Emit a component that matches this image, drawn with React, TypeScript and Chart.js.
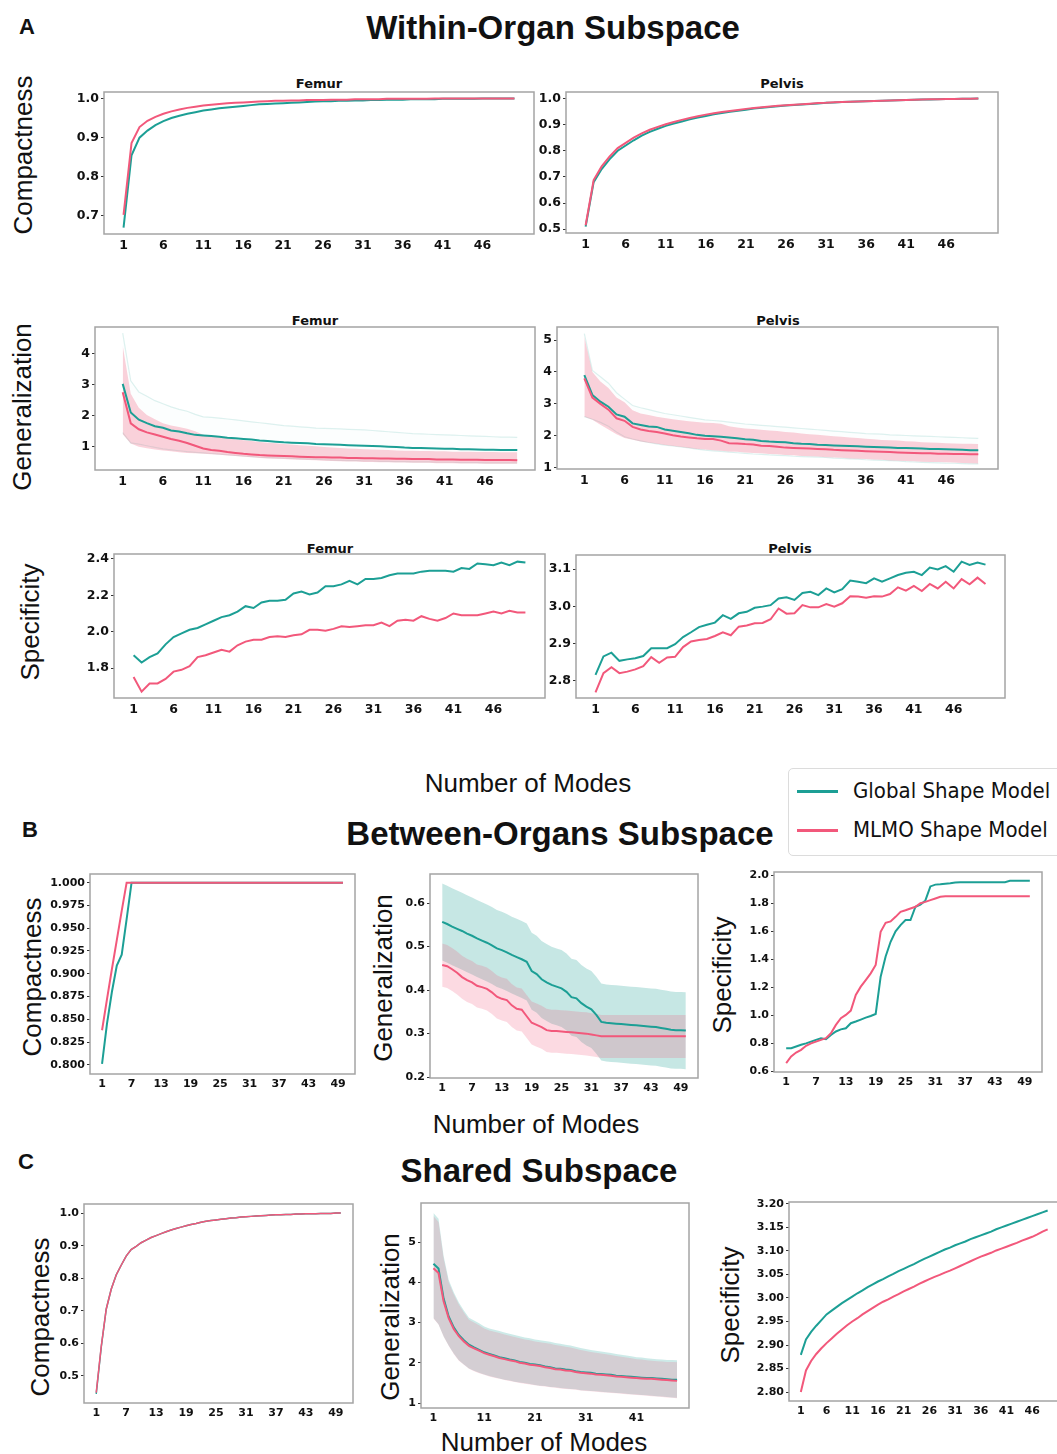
import React, { useEffect, useRef } from "react";
import { Chart, registerables } from "chart.js";

Chart.register(...registerables);

const TEAL = "#1c9f95";
const PINK = "#f2587b";

// ---------- tick label sets ----------
const xTicksA = [1, 6, 11, 16, 21, 26, 31, 36, 41, 46];
const xTicksB = [1, 7, 13, 19, 25, 31, 37, 43, 49];
const xTicksCG = [1, 11, 21, 31, 41];
const yTicksA1F = [0.7, 0.8, 0.9, 1.0];
const yTicksA1P = [0.5, 0.6, 0.7, 0.8, 0.9, 1.0];
const yTicksA2F = [1, 2, 3, 4];
const yTicksA2P = [1, 2, 3, 4, 5];
const yTicksA3F = [1.8, 2.0, 2.2, 2.4];
const yTicksA3P = [2.8, 2.9, 3.0, 3.1];
const yTicksBC = [0.8, 0.825, 0.85, 0.875, 0.9, 0.925, 0.95, 0.975, 1.0];
const yTicksBG = [0.2, 0.3, 0.4, 0.5, 0.6];
const yTicksBS = [0.6, 0.8, 1.0, 1.2, 1.4, 1.6, 1.8, 2.0];
const yTicksCC = [0.5, 0.6, 0.7, 0.8, 0.9, 1.0];
const yTicksCG = [1, 2, 3, 4, 5];
const yTicksCS = [2.8, 2.85, 2.9, 2.95, 3.0, 3.05, 3.1, 3.15, 3.2];

// ---------- A: within-organ, compactness ----------
const compFemurGlobal = [0.670, 0.855, 0.900, 0.918, 0.932, 0.942, 0.950, 0.956, 0.961, 0.965,
  0.969, 0.972, 0.975, 0.977, 0.979, 0.981, 0.983, 0.985, 0.986, 0.987,
  0.988, 0.989, 0.990, 0.991, 0.992, 0.993, 0.993, 0.994, 0.994, 0.995,
  0.995, 0.996, 0.996, 0.997, 0.997, 0.997, 0.998, 0.998, 0.998, 0.998,
  0.999, 0.999, 0.999, 0.999, 0.999, 1.000, 1.000, 1.000, 1.000, 1.000];
const compFemurMLMO = [0.703, 0.886, 0.927, 0.943, 0.953, 0.961, 0.967, 0.972, 0.976, 0.979,
  0.982, 0.984, 0.986, 0.988, 0.989, 0.990, 0.991, 0.992, 0.993, 0.994,
  0.994, 0.995, 0.995, 0.996, 0.996, 0.996, 0.997, 0.997, 0.997, 0.998,
  0.998, 0.998, 0.998, 0.999, 0.999, 0.999, 0.999, 0.999, 0.999, 1.000,
  1.000, 1.000, 1.000, 1.000, 1.000, 1.000, 1.000, 1.000, 1.000, 1.000];
const compPelvisGlobal = [0.510, 0.680, 0.730, 0.768, 0.800, 0.820, 0.840, 0.858, 0.872, 0.884,
  0.895, 0.904, 0.912, 0.920, 0.927, 0.933, 0.939, 0.944, 0.949, 0.953,
  0.957, 0.961, 0.964, 0.967, 0.970, 0.973, 0.975, 0.977, 0.979, 0.981,
  0.983, 0.984, 0.986, 0.987, 0.988, 0.989, 0.990, 0.991, 0.992, 0.993,
  0.994, 0.995, 0.996, 0.996, 0.997, 0.998, 0.998, 0.999, 0.999, 1.000];
const compPelvisMLMO = [0.515, 0.688, 0.740, 0.778, 0.810, 0.830, 0.850, 0.866, 0.880, 0.891,
  0.901, 0.910, 0.918, 0.925, 0.932, 0.938, 0.943, 0.948, 0.952, 0.956,
  0.960, 0.963, 0.966, 0.969, 0.972, 0.974, 0.976, 0.978, 0.980, 0.982,
  0.983, 0.985, 0.986, 0.987, 0.988, 0.989, 0.990, 0.991, 0.992, 0.993,
  0.994, 0.995, 0.996, 0.997, 0.997, 0.998, 0.998, 0.999, 0.999, 1.000];

// ---------- A: within-organ, generalization ----------
const genFemurGlobal = [3.02, 2.10, 1.87, 1.76, 1.66, 1.61, 1.52, 1.49, 1.43, 1.38,
  1.36, 1.34, 1.32, 1.29, 1.27, 1.25, 1.23, 1.20, 1.18, 1.16,
  1.14, 1.13, 1.12, 1.11, 1.09, 1.08, 1.07, 1.06, 1.05, 1.04,
  1.03, 1.02, 1.01, 1.00, 0.99, 0.97, 0.96, 0.96, 0.95, 0.94,
  0.93, 0.93, 0.92, 0.92, 0.91, 0.90, 0.90, 0.89, 0.89, 0.89];
const genFemurGlobalUp = [4.65, 3.12, 2.76, 2.62, 2.48, 2.38, 2.28, 2.20, 2.14, 2.04,
  1.96, 1.94, 1.92, 1.89, 1.86, 1.83, 1.80, 1.77, 1.74, 1.71,
  1.68, 1.66, 1.64, 1.62, 1.60, 1.59, 1.58, 1.57, 1.56, 1.55,
  1.54, 1.52, 1.50, 1.48, 1.46, 1.44, 1.42, 1.41, 1.40, 1.39,
  1.38, 1.37, 1.36, 1.35, 1.34, 1.33, 1.32, 1.31, 1.31, 1.30];
const genFemurGlobalLo = [1.45, 1.12, 1.08, 1.03, 0.98, 0.93, 0.90, 0.87, 0.84, 0.82,
  0.80, 0.78, 0.76, 0.74, 0.72, 0.70, 0.68, 0.66, 0.65, 0.64,
  0.63, 0.62, 0.61, 0.60, 0.59, 0.58, 0.57, 0.56, 0.55, 0.55,
  0.54, 0.54, 0.53, 0.53, 0.52, 0.52, 0.51, 0.51, 0.51, 0.50,
  0.50, 0.50, 0.49, 0.49, 0.49, 0.48, 0.48, 0.48, 0.48, 0.48];
const genFemurMLMO = [2.75, 1.75, 1.56, 1.46, 1.39, 1.32, 1.25, 1.19, 1.12, 1.03,
  0.94, 0.89, 0.87, 0.83, 0.80, 0.77, 0.75, 0.73, 0.72, 0.71,
  0.70, 0.69, 0.68, 0.67, 0.66, 0.66, 0.65, 0.65, 0.64, 0.64,
  0.63, 0.63, 0.62, 0.62, 0.61, 0.61, 0.60, 0.60, 0.60, 0.59,
  0.59, 0.59, 0.58, 0.58, 0.58, 0.57, 0.57, 0.57, 0.57, 0.56];
const genFemurMLMOUp = [4.25, 2.70, 2.25, 2.02, 1.88, 1.75, 1.68, 1.63, 1.58, 1.50,
  1.38, 1.33, 1.30, 1.27, 1.24, 1.21, 1.18, 1.15, 1.13, 1.11,
  1.09, 1.07, 1.05, 1.03, 1.01, 0.99, 0.97, 0.96, 0.94, 0.93,
  0.92, 0.91, 0.90, 0.89, 0.88, 0.87, 0.87, 0.86, 0.86, 0.85,
  0.85, 0.84, 0.84, 0.84, 0.83, 0.83, 0.83, 0.82, 0.82, 0.82];
const genFemurMLMOLo = [1.40, 1.10, 1.00, 0.95, 0.91, 0.88, 0.85, 0.82, 0.80, 0.79,
  0.77, 0.76, 0.74, 0.72, 0.70, 0.68, 0.66, 0.64, 0.62, 0.61,
  0.60, 0.59, 0.58, 0.57, 0.56, 0.55, 0.54, 0.53, 0.52, 0.52,
  0.51, 0.51, 0.50, 0.50, 0.49, 0.49, 0.48, 0.48, 0.48, 0.47,
  0.47, 0.47, 0.46, 0.46, 0.46, 0.45, 0.45, 0.45, 0.45, 0.45];

const genPelvisGlobal = [3.90, 3.28, 3.07, 2.91, 2.67, 2.60, 2.39, 2.34, 2.29, 2.28,
  2.20, 2.16, 2.12, 2.08, 2.03, 2.00, 1.99, 1.97, 1.95, 1.92,
  1.89, 1.88, 1.84, 1.82, 1.81, 1.80, 1.77, 1.75, 1.74, 1.72,
  1.71, 1.70, 1.69, 1.68, 1.67, 1.66, 1.65, 1.64, 1.63, 1.62,
  1.62, 1.61, 1.60, 1.59, 1.59, 1.58, 1.57, 1.56, 1.55, 1.55];
const genPelvisGlobalUp = [5.20, 4.05, 3.85, 3.65, 3.35, 3.15, 2.95, 2.88, 2.82, 2.76,
  2.70, 2.66, 2.62, 2.58, 2.54, 2.50, 2.48, 2.46, 2.43, 2.40,
  2.37, 2.35, 2.33, 2.31, 2.29, 2.27, 2.25, 2.23, 2.21, 2.19,
  2.17, 2.15, 2.13, 2.11, 2.09, 2.07, 2.06, 2.05, 2.03, 2.02,
  2.01, 2.00, 1.99, 1.98, 1.97, 1.96, 1.95, 1.94, 1.93, 1.92];
const genPelvisGlobalLo = [2.60, 2.52, 2.42, 2.30, 2.12, 1.97, 1.90, 1.84, 1.79, 1.75,
  1.71, 1.68, 1.65, 1.62, 1.58, 1.55, 1.53, 1.51, 1.49, 1.47,
  1.45, 1.43, 1.42, 1.40, 1.39, 1.38, 1.36, 1.35, 1.34, 1.33,
  1.32, 1.30, 1.29, 1.28, 1.27, 1.25, 1.24, 1.23, 1.22, 1.21,
  1.19, 1.18, 1.17, 1.16, 1.15, 1.14, 1.14, 1.13, 1.12, 1.12];
const genPelvisMLMO = [3.80, 3.20, 3.00, 2.82, 2.55, 2.47, 2.28, 2.20, 2.15, 2.12,
  2.07, 2.02, 1.98, 1.95, 1.92, 1.90, 1.90, 1.85, 1.77, 1.76,
  1.74, 1.73, 1.69, 1.68, 1.66, 1.63, 1.62, 1.61, 1.60, 1.59,
  1.58, 1.56, 1.55, 1.54, 1.53, 1.52, 1.51, 1.50, 1.49, 1.48,
  1.47, 1.46, 1.45, 1.45, 1.44, 1.44, 1.43, 1.43, 1.42, 1.42];
const genPelvisMLMOUp = [5.10, 4.00, 3.70, 3.50, 3.20, 3.05, 2.80, 2.70, 2.65, 2.60,
  2.56, 2.52, 2.49, 2.46, 2.43, 2.41, 2.40, 2.38, 2.30, 2.26,
  2.23, 2.21, 2.19, 2.17, 2.15, 2.12, 2.10, 2.07, 2.05, 2.03,
  2.01, 1.99, 1.97, 1.95, 1.93, 1.91, 1.89, 1.87, 1.86, 1.85,
  1.83, 1.82, 1.80, 1.79, 1.78, 1.77, 1.76, 1.75, 1.75, 1.74];
const genPelvisMLMOLo = [2.60, 2.50, 2.35, 2.20, 2.05, 1.93, 1.88, 1.82, 1.78, 1.75,
  1.71, 1.68, 1.65, 1.62, 1.59, 1.57, 1.55, 1.53, 1.51, 1.50,
  1.48, 1.46, 1.45, 1.43, 1.42, 1.40, 1.39, 1.37, 1.36, 1.35,
  1.33, 1.32, 1.31, 1.29, 1.28, 1.27, 1.26, 1.25, 1.23, 1.22,
  1.21, 1.20, 1.19, 1.18, 1.18, 1.17, 1.16, 1.15, 1.14, 1.13];

// ---------- A: within-organ, specificity ----------
const specFemurGlobal = [1.87, 1.83, 1.86, 1.88, 1.93, 1.97, 1.99, 2.01, 2.02, 2.04,
  2.06, 2.08, 2.09, 2.11, 2.14, 2.13, 2.16, 2.17, 2.17, 2.175,
  2.21, 2.22, 2.205, 2.215, 2.25, 2.25, 2.26, 2.28, 2.26, 2.29,
  2.29, 2.295, 2.31, 2.32, 2.32, 2.32, 2.33, 2.335, 2.335, 2.335,
  2.33, 2.35, 2.345, 2.375, 2.37, 2.365, 2.38, 2.365, 2.385, 2.38];
const specFemurMLMO = [1.75, 1.67, 1.715, 1.715, 1.74, 1.78, 1.79, 1.81, 1.86, 1.87,
  1.885, 1.90, 1.89, 1.925, 1.945, 1.955, 1.955, 1.97, 1.975, 1.97,
  1.98, 1.985, 2.01, 2.01, 2.005, 2.015, 2.03, 2.025, 2.03, 2.035,
  2.035, 2.05, 2.03, 2.06, 2.065, 2.06, 2.085, 2.07, 2.06, 2.075,
  2.10, 2.09, 2.09, 2.09, 2.10, 2.11, 2.10, 2.115, 2.105, 2.105];
const specPelvisGlobal = [2.815, 2.865, 2.875, 2.853, 2.857, 2.86, 2.866, 2.887, 2.887, 2.887,
  2.898, 2.917, 2.93, 2.944, 2.95, 2.956, 2.976, 2.966, 2.981, 2.985,
  2.996, 2.999, 3.003, 3.021, 3.024, 3.017, 3.036, 3.039, 3.03, 3.048,
  3.037, 3.046, 3.069, 3.066, 3.062, 3.075, 3.066, 3.075, 3.084, 3.09,
  3.093, 3.084, 3.104, 3.099, 3.108, 3.093, 3.12, 3.111, 3.118, 3.112];
const specPelvisMLMO = [2.768, 2.82, 2.836, 2.82, 2.824, 2.83, 2.839, 2.863, 2.848, 2.862,
  2.864, 2.89, 2.905, 2.909, 2.912, 2.92, 2.93, 2.922, 2.945, 2.948,
  2.954, 2.955, 2.965, 2.994, 2.98, 2.981, 3.003, 2.997, 2.997, 3.006,
  2.999, 3.008, 3.027, 3.026, 3.023, 3.027, 3.026, 3.033, 3.051, 3.042,
  3.055, 3.041, 3.06, 3.048, 3.066, 3.048, 3.073, 3.059, 3.077, 3.06];

// ---------- B: between-organs ----------
const betweenCompGlobal = [0.801, 0.845, 0.880, 0.909, 0.921, 0.960, 1.000, 1.000, 1.000, 1.000,
  1.000, 1.000, 1.000, 1.000, 1.000, 1.000, 1.000, 1.000, 1.000, 1.000,
  1.000, 1.000, 1.000, 1.000, 1.000, 1.000, 1.000, 1.000, 1.000, 1.000,
  1.000, 1.000, 1.000, 1.000, 1.000, 1.000, 1.000, 1.000, 1.000, 1.000,
  1.000, 1.000, 1.000, 1.000, 1.000, 1.000, 1.000, 1.000, 1.000, 1.000];
const betweenCompMLMO = [0.838, 0.872, 0.905, 0.937, 0.969, 1.000, 1.000, 1.000, 1.000, 1.000,
  1.000, 1.000, 1.000, 1.000, 1.000, 1.000, 1.000, 1.000, 1.000, 1.000,
  1.000, 1.000, 1.000, 1.000, 1.000, 1.000, 1.000, 1.000, 1.000, 1.000,
  1.000, 1.000, 1.000, 1.000, 1.000, 1.000, 1.000, 1.000, 1.000, 1.000,
  1.000, 1.000, 1.000, 1.000, 1.000, 1.000, 1.000, 1.000, 1.000, 1.000];

const betweenGenGlobal = [0.557, 0.552, 0.546, 0.541, 0.536, 0.530, 0.525, 0.519, 0.514, 0.509,
  0.503, 0.496, 0.492, 0.487, 0.481, 0.476, 0.471, 0.465, 0.444, 0.437,
  0.425, 0.418, 0.412, 0.408, 0.404, 0.396, 0.384, 0.381, 0.370, 0.362,
  0.356, 0.343, 0.327, 0.325, 0.324, 0.323, 0.322, 0.321, 0.320, 0.319,
  0.318, 0.317, 0.316, 0.315, 0.313, 0.311, 0.309, 0.308, 0.308, 0.307];
const betweenGenGlobalUp = [0.645, 0.640, 0.634, 0.629, 0.624, 0.618, 0.613, 0.607, 0.602, 0.597,
  0.591, 0.584, 0.580, 0.575, 0.569, 0.564, 0.559, 0.553, 0.532, 0.525,
  0.513, 0.506, 0.500, 0.496, 0.492, 0.484, 0.472, 0.469, 0.458, 0.450,
  0.444, 0.431, 0.415, 0.413, 0.412, 0.411, 0.410, 0.409, 0.408, 0.407,
  0.406, 0.405, 0.404, 0.403, 0.401, 0.399, 0.397, 0.396, 0.396, 0.395];
const betweenGenGlobalLo = [0.468, 0.463, 0.457, 0.452, 0.447, 0.441, 0.436, 0.430, 0.425, 0.420,
  0.414, 0.407, 0.403, 0.398, 0.392, 0.387, 0.382, 0.376, 0.355, 0.348,
  0.336, 0.329, 0.323, 0.319, 0.315, 0.307, 0.295, 0.292, 0.281, 0.273,
  0.267, 0.254, 0.238, 0.236, 0.235, 0.234, 0.233, 0.232, 0.231, 0.230,
  0.229, 0.228, 0.227, 0.226, 0.224, 0.222, 0.220, 0.219, 0.219, 0.218];
const betweenGenMLMO = [0.458, 0.455, 0.448, 0.440, 0.430, 0.423, 0.418, 0.410, 0.407, 0.403,
  0.395, 0.385, 0.380, 0.377, 0.365, 0.357, 0.355, 0.340, 0.325, 0.320,
  0.315, 0.308, 0.306, 0.306, 0.305, 0.304, 0.303, 0.302, 0.301, 0.300,
  0.298, 0.296, 0.294, 0.294, 0.294, 0.294, 0.294, 0.294, 0.294, 0.294,
  0.294, 0.294, 0.294, 0.294, 0.294, 0.294, 0.294, 0.294, 0.294, 0.294];
const betweenGenMLMOUp = [0.507, 0.504, 0.497, 0.489, 0.479, 0.472, 0.467, 0.459, 0.456, 0.452,
  0.444, 0.434, 0.429, 0.426, 0.414, 0.406, 0.404, 0.389, 0.374, 0.369,
  0.364, 0.357, 0.355, 0.355, 0.354, 0.353, 0.352, 0.351, 0.350, 0.349,
  0.347, 0.345, 0.343, 0.343, 0.343, 0.343, 0.343, 0.343, 0.343, 0.343,
  0.343, 0.343, 0.343, 0.343, 0.343, 0.343, 0.343, 0.343, 0.343, 0.343];
const betweenGenMLMOLo = [0.408, 0.405, 0.398, 0.390, 0.380, 0.373, 0.368, 0.360, 0.357, 0.353,
  0.345, 0.335, 0.330, 0.327, 0.315, 0.307, 0.305, 0.290, 0.275, 0.270,
  0.265, 0.258, 0.256, 0.256, 0.255, 0.254, 0.253, 0.252, 0.251, 0.250,
  0.248, 0.246, 0.244, 0.244, 0.244, 0.244, 0.244, 0.244, 0.244, 0.244,
  0.244, 0.244, 0.244, 0.244, 0.244, 0.244, 0.244, 0.244, 0.244, 0.244];

const betweenSpecGlobal = [0.766, 0.766, 0.778, 0.790, 0.800, 0.813, 0.825, 0.837, 0.830, 0.860,
  0.885, 0.900, 0.908, 0.944, 0.956, 0.970, 0.984, 0.996, 1.010, 1.276,
  1.420, 1.525, 1.600, 1.644, 1.680, 1.680, 1.775, 1.790, 1.820, 1.920,
  1.933, 1.936, 1.940, 1.943, 1.948, 1.950, 1.950, 1.950, 1.950, 1.950,
  1.950, 1.950, 1.950, 1.950, 1.950, 1.960, 1.960, 1.960, 1.960, 1.960];
const betweenSpecMLMO = [0.660, 0.707, 0.735, 0.754, 0.783, 0.800, 0.813, 0.825, 0.837, 0.872,
  0.932, 0.980, 1.003, 1.034, 1.146, 1.205, 1.252, 1.300, 1.360, 1.597,
  1.660, 1.670, 1.703, 1.739, 1.750, 1.763, 1.775, 1.800, 1.810, 1.822,
  1.834, 1.846, 1.850, 1.850, 1.850, 1.850, 1.850, 1.850, 1.850, 1.850,
  1.850, 1.850, 1.850, 1.850, 1.850, 1.850, 1.850, 1.850, 1.850, 1.850];

// ---------- C: shared ----------
const sharedCompGlobal = [0.445, 0.588, 0.705, 0.766, 0.810, 0.840, 0.868, 0.888, 0.898, 0.909,
  0.917, 0.925, 0.931, 0.937, 0.943, 0.948, 0.953, 0.957, 0.961, 0.965,
  0.968, 0.972, 0.975, 0.977, 0.979, 0.981, 0.983, 0.985, 0.986, 0.988,
  0.989, 0.990, 0.991, 0.992, 0.993, 0.994, 0.995, 0.995, 0.996, 0.996,
  0.997, 0.997, 0.998, 0.998, 0.998, 0.999, 0.999, 0.999, 1.000, 1.000];
const sharedCompMLMO = [0.449, 0.590, 0.705, 0.766, 0.810, 0.840, 0.868, 0.888, 0.898, 0.909,
  0.917, 0.925, 0.931, 0.937, 0.943, 0.948, 0.953, 0.957, 0.961, 0.965,
  0.968, 0.972, 0.975, 0.977, 0.979, 0.981, 0.983, 0.985, 0.986, 0.988,
  0.989, 0.990, 0.991, 0.992, 0.993, 0.994, 0.995, 0.995, 0.996, 0.996,
  0.997, 0.997, 0.998, 0.998, 0.998, 0.999, 0.999, 0.999, 1.000, 1.000];

const sharedGenGlobal = [4.46, 4.34, 3.60, 3.15, 2.88, 2.69, 2.56, 2.45, 2.38, 2.32,
  2.26, 2.22, 2.18, 2.14, 2.11, 2.08, 2.06, 2.02, 2.00, 1.97,
  1.96, 1.94, 1.91, 1.89, 1.86, 1.85, 1.83, 1.82, 1.79, 1.77,
  1.76, 1.75, 1.73, 1.72, 1.71, 1.70, 1.68, 1.67, 1.66, 1.65,
  1.64, 1.63, 1.62, 1.62, 1.61, 1.60, 1.59, 1.58, 1.58];
const sharedGenGlobalUp = [5.72, 5.58, 4.66, 4.06, 3.75, 3.50, 3.30, 3.12, 3.05, 2.98,
  2.90, 2.85, 2.82, 2.79, 2.75, 2.72, 2.69, 2.66, 2.63, 2.61,
  2.58, 2.56, 2.54, 2.52, 2.49, 2.47, 2.45, 2.43, 2.40, 2.37,
  2.34, 2.32, 2.30, 2.28, 2.26, 2.24, 2.22, 2.20, 2.18, 2.16,
  2.14, 2.13, 2.11, 2.10, 2.09, 2.08, 2.07, 2.07, 2.06];
const sharedGenGlobalLo = [3.11, 2.96, 2.66, 2.43, 2.23, 2.06, 1.96, 1.86, 1.80, 1.75,
  1.71, 1.67, 1.64, 1.61, 1.58, 1.56, 1.53, 1.51, 1.49, 1.47,
  1.45, 1.43, 1.42, 1.40, 1.39, 1.37, 1.36, 1.35, 1.34, 1.32,
  1.31, 1.30, 1.29, 1.28, 1.27, 1.26, 1.25, 1.24, 1.23, 1.22,
  1.21, 1.20, 1.19, 1.18, 1.17, 1.16, 1.15, 1.14, 1.13];
const sharedGenMLMO = [4.35, 4.23, 3.53, 3.11, 2.84, 2.66, 2.53, 2.42, 2.36, 2.30,
  2.24, 2.20, 2.16, 2.12, 2.09, 2.06, 2.04, 2.00, 1.98, 1.95,
  1.94, 1.92, 1.89, 1.87, 1.84, 1.83, 1.81, 1.80, 1.77, 1.75,
  1.74, 1.73, 1.71, 1.70, 1.69, 1.68, 1.66, 1.65, 1.64, 1.63,
  1.62, 1.61, 1.60, 1.60, 1.59, 1.58, 1.57, 1.56, 1.55];
const sharedGenMLMOUp = [5.65, 5.50, 4.60, 4.00, 3.70, 3.45, 3.25, 3.07, 3.00, 2.93,
  2.85, 2.80, 2.77, 2.74, 2.70, 2.67, 2.64, 2.61, 2.58, 2.56,
  2.53, 2.51, 2.49, 2.47, 2.44, 2.42, 2.40, 2.38, 2.35, 2.32,
  2.29, 2.27, 2.25, 2.23, 2.21, 2.19, 2.17, 2.15, 2.13, 2.11,
  2.09, 2.08, 2.06, 2.05, 2.04, 2.03, 2.02, 2.02, 2.01];
const sharedGenMLMOLo = [3.10, 2.95, 2.65, 2.42, 2.22, 2.05, 1.95, 1.85, 1.79, 1.74,
  1.70, 1.66, 1.63, 1.60, 1.57, 1.55, 1.52, 1.50, 1.48, 1.46,
  1.44, 1.42, 1.41, 1.39, 1.38, 1.36, 1.35, 1.34, 1.33, 1.31,
  1.30, 1.29, 1.28, 1.27, 1.26, 1.25, 1.24, 1.23, 1.22, 1.21,
  1.20, 1.19, 1.18, 1.17, 1.16, 1.15, 1.14, 1.13, 1.12];

const sharedSpecGlobal = [2.879, 2.912, 2.928, 2.941, 2.953, 2.965, 2.973, 2.981, 2.989, 2.996,
  3.003, 3.010, 3.016, 3.023, 3.029, 3.035, 3.040, 3.046, 3.051, 3.057,
  3.062, 3.067, 3.072, 3.078, 3.083, 3.088, 3.093, 3.098, 3.103, 3.107,
  3.112, 3.116, 3.120, 3.125, 3.129, 3.133, 3.137, 3.141, 3.146, 3.150,
  3.154, 3.158, 3.162, 3.166, 3.170, 3.174, 3.178, 3.182, 3.186];
const sharedSpecMLMO = [2.800, 2.846, 2.866, 2.881, 2.893, 2.904, 2.914, 2.924, 2.933, 2.942,
  2.950, 2.957, 2.965, 2.972, 2.979, 2.986, 2.992, 2.997, 3.003, 3.008,
  3.014, 3.019, 3.024, 3.030, 3.035, 3.040, 3.045, 3.049, 3.054, 3.058,
  3.063, 3.068, 3.073, 3.078, 3.083, 3.088, 3.092, 3.096, 3.101, 3.105,
  3.109, 3.113, 3.117, 3.122, 3.126, 3.130, 3.135, 3.141, 3.146];

// ---------- styling ----------
const bandPinkA = "rgba(242,88,123,0.27)";
const bandTealA = "rgba(28,159,149,0.012)";
const edgeTealA = "rgba(28,159,149,0.15)";
const bandTealB = "rgba(28,159,149,0.25)";
const bandPinkB = "rgba(242,88,123,0.22)";
const bandTealC = "rgba(28,159,149,0.22)";
const bandPinkC = "rgba(242,88,123,0.2)";

type Band = { upper: number[]; lower: number[]; fill: string; edge?: string };
type Spec = {
  rect: number[];
  xr: number[];
  yr: number[];
  xTicks: number[];
  yTicks: number[];
  dec: number;
  font: number;
  lw: number;
  global: number[];
  mlmo: number[];
  gBand?: Band;
  mBand?: Band;
};

const XA = [-1.45, 52.45];

const panels: Spec[] = [
  { rect: [104, 92, 534, 234], xr: XA, yr: [0.654, 1.0165], xTicks: xTicksA, yTicks: yTicksA1F, dec: 1, font: 12.5, lw: 2, global: compFemurGlobal, mlmo: compFemurMLMO },
  { rect: [566, 92, 998, 233], xr: XA, yr: [0.4855, 1.0245], xTicks: xTicksA, yTicks: yTicksA1P, dec: 1, font: 12.5, lw: 2, global: compPelvisGlobal, mlmo: compPelvisMLMO },
  {
    rect: [95, 327, 535, 470], xr: [-2.44, 52.2], yr: [0.25, 4.85], xTicks: xTicksA, yTicks: yTicksA2F, dec: 0, font: 12.5, lw: 2,
    global: genFemurGlobal, mlmo: genFemurMLMO,
    gBand: { upper: genFemurGlobalUp, lower: genFemurGlobalLo, fill: bandTealA, edge: edgeTealA },
    mBand: { upper: genFemurMLMOUp, lower: genFemurMLMOLo, fill: bandPinkA },
  },
  {
    rect: [557, 327, 998, 469], xr: [-2.4, 52.45], yr: [0.96, 5.41], xTicks: xTicksA, yTicks: yTicksA2P, dec: 0, font: 12.5, lw: 2,
    global: genPelvisGlobal, mlmo: genPelvisMLMO,
    gBand: { upper: genPelvisGlobalUp, lower: genPelvisGlobalLo, fill: bandTealA, edge: edgeTealA },
    mBand: { upper: genPelvisMLMOUp, lower: genPelvisMLMOLo, fill: bandPinkA },
  },
  { rect: [114, 554, 545, 698], xr: XA, yr: [1.635, 2.427], xTicks: xTicksA, yTicks: yTicksA3F, dec: 1, font: 12.5, lw: 2, global: specFemurGlobal, mlmo: specFemurMLMO },
  { rect: [576, 555, 1005, 698], xr: XA, yr: [2.753, 3.138], xTicks: xTicksA, yTicks: yTicksA3P, dec: 1, font: 12.5, lw: 2, global: specPelvisGlobal, mlmo: specPelvisMLMO },
  { rect: [90, 874, 355, 1074], xr: XA, yr: [0.79, 1.0095], xTicks: xTicksB, yTicks: yTicksBC, dec: 3, font: 11, lw: 2, global: betweenCompGlobal, mlmo: betweenCompMLMO },
  {
    rect: [430, 874, 698, 1078], xr: XA, yr: [0.198, 0.667], xTicks: xTicksB, yTicks: yTicksBG, dec: 1, font: 11, lw: 2,
    global: betweenGenGlobal, mlmo: betweenGenMLMO,
    gBand: { upper: betweenGenGlobalUp, lower: betweenGenGlobalLo, fill: bandTealB },
    mBand: { upper: betweenGenMLMOUp, lower: betweenGenMLMOLo, fill: bandPinkB },
  },
  { rect: [774, 872, 1042, 1072], xr: XA, yr: [0.596, 2.023], xTicks: xTicksB, yTicks: yTicksBS, dec: 1, font: 11, lw: 2, global: betweenSpecGlobal, mlmo: betweenSpecMLMO },
  { rect: [84, 1204, 353, 1403], xr: XA, yr: [0.417, 1.028], xTicks: xTicksB, yTicks: yTicksCC, dec: 1, font: 11, lw: 1.5, global: sharedCompGlobal, mlmo: sharedCompMLMO },
  {
    rect: [421, 1203, 689, 1408], xr: [-1.45, 51.35], yr: [0.876, 5.97], xTicks: xTicksCG, yTicks: yTicksCG, dec: 0, font: 11, lw: 2,
    global: sharedGenGlobal, mlmo: sharedGenMLMO,
    gBand: { upper: sharedGenGlobalUp, lower: sharedGenGlobalLo, fill: bandTealC },
    mBand: { upper: sharedGenMLMOUp, lower: sharedGenMLMOLo, fill: bandPinkC },
  },
  { rect: [789, 1202, 1060, 1401], xr: [-1.3, 51.4], yr: [2.781, 3.204], xTicks: xTicksA, yTicks: yTicksCS, dec: 2, font: 11, lw: 2, global: sharedSpecGlobal, mlmo: sharedSpecMLMO },
];

const framePlugin = {
  id: "frame",
  afterDatasetsDraw(chart: any) {
    const { ctx, chartArea } = chart;
    const { left, top, right, bottom } = chartArea;
    ctx.save();
    ctx.strokeStyle = "#a4a4a4";
    ctx.lineWidth = 1.5;
    ctx.strokeRect(left, top, right - left, bottom - top);
    ctx.restore();
  },
};

const YW = 62;
const PAD = 12;
const XH = 24;

function Panel({ s }: { s: Spec }) {
  const ref = useRef<HTMLCanvasElement>(null);
  const [l, t, r, b] = s.rect;
  const w = r - l + YW + PAD;
  const h = b - t + PAD + XH;
  useEffect(() => {
    const pts = (a: number[]) => a.map((v, i) => ({ x: i + 1, y: v }));
    const datasets: any[] = [
      { data: pts(s.mlmo), borderColor: PINK, borderWidth: s.lw, pointRadius: 0, fill: false, tension: 0 },
      { data: pts(s.global), borderColor: TEAL, borderWidth: s.lw, pointRadius: 0, fill: false, tension: 0 },
    ];
    for (const band of [s.mBand, s.gBand]) {
      if (!band) continue;
      const ec = band.edge || "rgba(0,0,0,0)";
      const ew = band.edge ? 1.2 : 0;
      datasets.push({ data: pts(band.upper), borderColor: ec, borderWidth: ew, pointRadius: 0, fill: "+1", backgroundColor: band.fill, tension: 0 });
      datasets.push({ data: pts(band.lower), borderColor: ec, borderWidth: ew, pointRadius: 0, fill: false, tension: 0 });
    }
    const font: any = { family: '"DejaVu Sans", sans-serif', weight: "bold", size: s.font };
    const chart = new Chart(ref.current as HTMLCanvasElement, {
      type: "line",
      data: { datasets },
      options: {
        animation: false,
        responsive: false,
        devicePixelRatio: 1,
        layout: { padding: { top: PAD, right: PAD, left: 0, bottom: 0 } },
        plugins: { legend: { display: false }, tooltip: { enabled: false } },
        scales: {
          x: {
            type: "linear",
            min: s.xr[0],
            max: s.xr[1],
            grid: { display: false, drawTicks: false },
            border: { display: false },
            afterBuildTicks: (sc: any) => {
              sc.ticks = s.xTicks.map((v) => ({ value: v }));
            },
            afterFit: (sc: any) => {
              sc.height = XH;
            },
            ticks: { font, color: "#111", padding: 4, autoSkip: false, maxRotation: 0, callback: (v: any) => String(v) },
          },
          y: {
            type: "linear",
            min: s.yr[0],
            max: s.yr[1],
            grid: { display: true, drawOnChartArea: false, drawTicks: true, tickLength: 3, color: "#333", lineWidth: 1 },
            border: { display: false },
            afterBuildTicks: (sc: any) => {
              sc.ticks = s.yTicks.map((v) => ({ value: v }));
            },
            afterFit: (sc: any) => {
              sc.width = YW;
            },
            ticks: { font, color: "#111", padding: 2, autoSkip: false, callback: (v: any) => Number(v).toFixed(s.dec) },
          },
        },
      } as any,
      plugins: [framePlugin],
    });
    return () => chart.destroy();
  }, []);
  return <canvas ref={ref} width={w} height={h} style={{ position: "absolute", left: l - YW, top: t - PAD, width: w, height: h }} />;
}

const SANS = '"Liberation Sans", Arial, sans-serif';

function Txt(props: { x: number; y: number; size: number; bold?: boolean; rot?: boolean; family?: string; children: any }) {
  const { x, y, size, bold, rot, family, children } = props;
  return (
    <div
      style={{
        position: "absolute",
        left: x,
        top: y,
        transform: `translate(-50%, -50%)${rot ? " rotate(-90deg)" : ""}`,
        fontSize: size,
        fontWeight: bold ? 700 : 400,
        lineHeight: 1,
        whiteSpace: "nowrap",
        fontFamily: family || SANS,
        color: "#111",
      }}
    >
      {children}
    </div>
  );
}

const SUB = '"DejaVu Sans", sans-serif';
const LEG = '"DejaVu Sans Condensed", "DejaVu Sans", sans-serif';

export default function App() {
  return (
    <div style={{ position: "absolute", left: 0, top: 0, width: 1057, height: 1454, overflow: "hidden", background: "#fff" }}>
      {/* panel letters and section titles */}
      <Txt x={27} y={27} size={22} bold>A</Txt>
      <Txt x={553} y={27} size={33} bold>Within-Organ Subspace</Txt>
      <Txt x={30} y={830} size={22} bold>B</Txt>
      <Txt x={560} y={833} size={33} bold>Between-Organs Subspace</Txt>
      <Txt x={26} y={1162} size={22} bold>C</Txt>
      <Txt x={539} y={1170} size={33} bold>Shared Subspace</Txt>

      {/* subplot titles */}
      <Txt x={319} y={83} size={13} bold family={SUB}>Femur</Txt>
      <Txt x={782} y={83} size={13} bold family={SUB}>Pelvis</Txt>
      <Txt x={315} y={320} size={13} bold family={SUB}>Femur</Txt>
      <Txt x={778} y={320} size={13} bold family={SUB}>Pelvis</Txt>
      <Txt x={330} y={548} size={13} bold family={SUB}>Femur</Txt>
      <Txt x={790} y={548} size={13} bold family={SUB}>Pelvis</Txt>

      {/* axis labels */}
      <Txt x={23} y={155} size={26} rot>Compactness</Txt>
      <Txt x={22} y={407} size={26} rot>Generalization</Txt>
      <Txt x={30} y={622} size={26} rot>Specificity</Txt>
      <Txt x={528} y={783} size={26}>Number of Modes</Txt>

      <Txt x={32} y={977} size={26} rot>Compactness</Txt>
      <Txt x={383} y={978} size={26} rot>Generalization</Txt>
      <Txt x={722} y={975} size={26} rot>Specificity</Txt>
      <Txt x={536} y={1124} size={26}>Number of Modes</Txt>

      <Txt x={40} y={1317} size={26} rot>Compactness</Txt>
      <Txt x={390} y={1317} size={26} rot>Generalization</Txt>
      <Txt x={730} y={1305} size={26} rot>Specificity</Txt>
      <Txt x={544} y={1442} size={26}>Number of Modes</Txt>

      {panels.map((s, i) => (
        <Panel key={i} s={s} />
      ))}

      {/* legend */}
      <div
        style={{
          position: "absolute",
          left: 788,
          top: 768,
          width: 280,
          height: 88,
          border: "1.5px solid #dcdcdc",
          borderRadius: 5,
          background: "rgba(255,255,255,0.85)",
          boxSizing: "border-box",
        }}
      >
        <div style={{ position: "absolute", left: 8, top: 21, width: 41, height: 3, background: TEAL }} />
        <div style={{ position: "absolute", left: 8, top: 60, width: 41, height: 3, background: PINK }} />
        <div
          style={{
            position: "absolute",
            left: 64,
            top: 22,
            transform: "translateY(-50%)",
            fontFamily: LEG,
            fontStretch: "condensed",
            fontSize: 22,
            lineHeight: 1,
            whiteSpace: "nowrap",
            color: "#111",
          }}
        >
          Global Shape Model
        </div>
        <div
          style={{
            position: "absolute",
            left: 64,
            top: 61,
            transform: "translateY(-50%)",
            fontFamily: LEG,
            fontStretch: "condensed",
            fontSize: 22,
            lineHeight: 1,
            whiteSpace: "nowrap",
            color: "#111",
          }}
        >
          MLMO Shape Model
        </div>
      </div>
    </div>
  );
}
